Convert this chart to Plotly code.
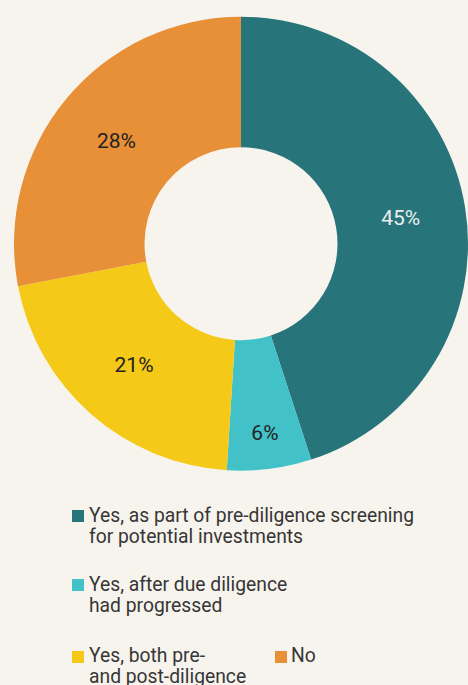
import plotly.graph_objects as go

# ---- data ----
categories = [
    "Yes, as part of pre-diligence screening for potential investments",
    "Yes, after due diligence had progressed",
    "Yes, both pre- and post-diligence",
    "No",
]
values = [45, 6, 21, 28]
legend_lines = [
    ["Yes, as part of pre-diligence screening", "for potential investments"],
    ["Yes, after due diligence", "had progressed"],
    ["Yes, both pre-", "and post-diligence"],
    ["No"],
]

# ---- style ----
colors = ["#27747a", "#42c2c8", "#f5c918", "#e89038"]
label_colors = ["#e9eeee", "#222222", "#222222", "#222222"]
BG = "#f7f4ee"
FONT = "Roboto, sans-serif"
W, H = 468, 685


def px(x):
    return x / W


def py(y):
    return 1 - y / H


fig = go.Figure(
    go.Pie(
        labels=categories,
        values=values,
        marker=dict(colors=colors, line=dict(width=0)),
        hole=0.425,
        sort=False,
        direction="clockwise",
        rotation=0,
        texttemplate="%{value}%",
        textposition="inside",
        insidetextorientation="horizontal",
        textfont=dict(family=FONT, size=21, color=label_colors),
        showlegend=False,
        hoverinfo="label+percent",
        domain=dict(x=[px(14), 1], y=[py(470.7), py(16.7)]),
    )
)

# legend drawn as squares + text
legend_pos = [  # (square x, square top y, text x, first baseline y)
    (72, 510, 88, 521.7),
    (72, 579, 88, 590.7),
    (72, 651, 88, 661.7),
    (275, 651, 290, 661.7),
]
line_pitch = 21.8
fs = 19.3
for i, (sx, sy, tx, by) in enumerate(legend_pos):
    fig.add_shape(
        type="rect", xref="paper", yref="paper",
        x0=px(sx), x1=px(sx + 12), y0=py(sy + 12), y1=py(sy),
        fillcolor=colors[i], line=dict(width=0),
    )
    for j, line in enumerate(legend_lines[i]):
        base = by + j * line_pitch
        fig.add_annotation(
            text=line, xref="paper", yref="paper",
            x=px(tx), y=py(base - 0.3465 * fs),
            xanchor="left", yanchor="middle", showarrow=False,
            font=dict(family=FONT, size=fs, color="#363636"),
            borderpad=0,
        )

fig.update_layout(
    width=W, height=H,
    margin=dict(l=0, r=0, t=0, b=0),
    paper_bgcolor=BG, plot_bgcolor=BG,
    showlegend=False,
)

fig.write_html("out.html", config={"displayModeBar": False},
               post_script="document.body.style.margin='0';")
